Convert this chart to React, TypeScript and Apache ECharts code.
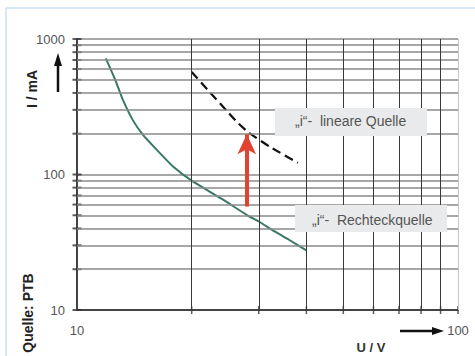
import React, { useEffect, useRef } from "react";
import * as echarts from "echarts";

// "i"- Rechteckquelle (solid green curve)
const rechteckU = [11.9, 12.6, 13.2, 14.0, 14.9, 16.2, 17.9, 20, 24, 28, 30, 33, 36, 40];
const rechteckI = [720, 500, 355, 253, 196, 152, 114, 90, 66, 50, 45, 38, 33, 27.5];
// "i"- lineare Quelle (dashed black curve)
const linearU = [20, 22.3, 24.9, 26.3, 28.1, 32.1, 38];
const linearI = [570, 406, 289, 244, 206, 160, 122];
// red arrow
const arrowU = 27.9;
const arrowFromI = 58;
const arrowToI = 198;
// grid lines / ticks
const xGridValues = [20, 30, 40, 50, 60, 70, 80, 90];
const yGridValues = [20, 30, 40, 50, 60, 70, 80, 90, 200, 300, 400, 500, 600, 700, 800, 900];
const yTickValues = [10, 20, 30, 40, 50, 60, 70, 80, 90, 100, 200, 300, 400, 500, 600, 700, 800, 900, 1000];
const xTickValues = [20, 30, 40, 50, 60, 70, 80, 90, 100];
const xLabelShown = [10, 100];
const yLabelShown = [10, 100, 1000];

const labelLinear = "\u201Ei\u201C-  lineare Quelle";
const labelRechteck = "\u201Ei\u201C-  Rechteckquelle";

const FONT = "'Liberation Sans', Arial, sans-serif";

export default function App() {
  const ref = useRef<HTMLDivElement>(null);
  useEffect(() => {
    if (!ref.current) return;
    const chart = echarts.init(ref.current, undefined, { renderer: "svg" });
    const gridLines: any[] = [];
    yGridValues.forEach((v) =>
      gridLines.push({ yAxis: v, lineStyle: { color: "#8a8a8a", width: 1.5, type: "solid" } })
    );
    xGridValues.forEach((v) =>
      gridLines.push({ xAxis: v, lineStyle: { color: "#3a3a3a", width: 1, type: "solid" } })
    );
    gridLines.push({ xAxis: 100, lineStyle: { color: "#c8c8c8", width: 1, type: "solid" } });

    chart.setOption({
      animation: false,
      backgroundColor: "#ffffff",
      grid: { left: 77, right: 17, top: 39, bottom: 46, containLabel: false },
      xAxis: {
        type: "log",
        logBase: 10,
        min: 10,
        max: 100,
        axisLine: { show: true, lineStyle: { color: "#444", width: 2 } },
        axisTick: { show: false },
        splitLine: { show: false },
        axisLabel: {
          fontSize: 13,
          color: "#555",
          fontFamily: FONT,
          margin: 14,
          formatter: (v: number) => (xLabelShown.includes(Math.round(v)) ? String(Math.round(v)) : ""),
        },
      },
      yAxis: {
        type: "log",
        logBase: 10,
        min: 10,
        max: 1000,
        axisLine: { show: true, lineStyle: { color: "#444", width: 2 } },
        axisTick: { show: false },
        splitLine: { show: true, lineStyle: { color: "#8a8a8a", width: 1.5 } },
        axisLabel: {
          fontSize: 13,
          color: "#555",
          fontFamily: FONT,
          margin: 12,
          formatter: (v: number) => (yLabelShown.includes(Math.round(v)) ? String(Math.round(v)) : ""),
        },
      },
      series: [
        {
          type: "line",
          name: "grid",
          data: [],
          silent: true,
          z: 1,
          markLine: {
            silent: true,
            symbol: ["none", "none"],
            label: { show: false },
            animation: false,
            data: gridLines,
          },
        },
        {
          type: "scatter",
          name: "yticks",
          data: yTickValues.map((v) => [10, v]),
          symbol: "rect",
          symbolSize: [9, 2],
          itemStyle: { color: "#333" },
          clip: false,
          silent: true,
          z: 3,
        },
        {
          type: "scatter",
          name: "xticks",
          data: xTickValues.map((v) => [v, 10]),
          symbol: "rect",
          symbolSize: [1.5, 8],
          itemStyle: { color: "#333" },
          clip: false,
          silent: true,
          z: 3,
        },
        {
          type: "line",
          name: "Rechteckquelle",
          data: rechteckU.map((u, i) => [u, rechteckI[i]]),
          showSymbol: false,
          smooth: 0.2,
          lineStyle: { color: "#3a7769", width: 2 },
          z: 4,
        },
        {
          type: "line",
          name: "lineare Quelle",
          data: linearU.map((u, i) => [u, linearI[i]]),
          showSymbol: false,
          smooth: 0.2,
          lineStyle: { color: "#111", width: 2.2, type: [9, 5] },
          z: 4,
          markLine: {
            silent: true,
            symbol: ["none", "arrow"],
            symbolSize: [14, 20],
            label: { show: false },
            lineStyle: { color: "#e2432f", width: 4, type: "solid" },
            data: [[{ coord: [arrowU, arrowFromI] }, { coord: [arrowU, arrowToI] }]],
          },
        },
      ],
      graphic: [
        { type: "line", shape: { x1: 6, y1: 8, x2: 6, y2: 356 }, style: { stroke: "#d6e7f4", lineWidth: 2 }, z: 100 },
        { type: "line", shape: { x1: 6, y1: 8, x2: 475, y2: 8 }, style: { stroke: "#d6e7f4", lineWidth: 2 }, z: 100 },
        // up arrow by y label
        { type: "line", shape: { x1: 58, y1: 92, x2: 58, y2: 62 }, style: { stroke: "#111", lineWidth: 2.5 }, z: 100 },
        { type: "polygon", shape: { points: [[58, 53], [54, 66], [62, 66]] }, style: { fill: "#111" }, z: 100 },
        // right arrow by 100
        { type: "line", shape: { x1: 400, y1: 331, x2: 434, y2: 331 }, style: { stroke: "#111", lineWidth: 2.5 }, z: 100 },
        { type: "polygon", shape: { points: [[444, 331], [432, 327], [432, 335]] }, style: { fill: "#111" }, z: 100 },
        {
          type: "text",
          x: 32,
          y: 89,
          rotation: Math.PI / 2,
          style: { text: "I / mA", fontSize: 14, fontWeight: "bold", fill: "#222", fontFamily: FONT, align: "center", verticalAlign: "middle" },
          z: 100,
        },
        {
          type: "text",
          x: 28,
          y: 313,
          rotation: Math.PI / 2,
          style: { text: "Quelle: PTB", fontSize: 14, fontWeight: "bold", fill: "#222", fontFamily: "'Liberation Sans Narrow', " + FONT, align: "center", verticalAlign: "middle" },
          z: 100,
        },
        {
          type: "text",
          x: 371,
          y: 347,
          style: { text: "U / V", fontSize: 13, fontWeight: "bold", fill: "#333", fontFamily: FONT, align: "center", verticalAlign: "middle" },
          z: 100,
        },
        { type: "rect", shape: { x: 275, y: 108, width: 152, height: 28 }, style: { fill: "#e9eaeb" }, z: 100 },
        {
          type: "text",
          x: 295,
          y: 121,
          style: { text: labelLinear, fontSize: 14, fill: "#555", fontFamily: FONT, align: "left", verticalAlign: "middle" },
          z: 101,
        },
        { type: "rect", shape: { x: 295, y: 205, width: 152, height: 27 }, style: { fill: "#e9eaeb" }, z: 100 },
        {
          type: "text",
          x: 312,
          y: 220,
          style: { text: labelRechteck, fontSize: 14, fill: "#555", fontFamily: FONT, align: "left", verticalAlign: "middle" },
          z: 101,
        },
      ],
    });
    return () => chart.dispose();
  }, []);
  return <div ref={ref} style={{ position: "fixed", left: 0, top: 0, width: 475, height: 356 }} />;
}
